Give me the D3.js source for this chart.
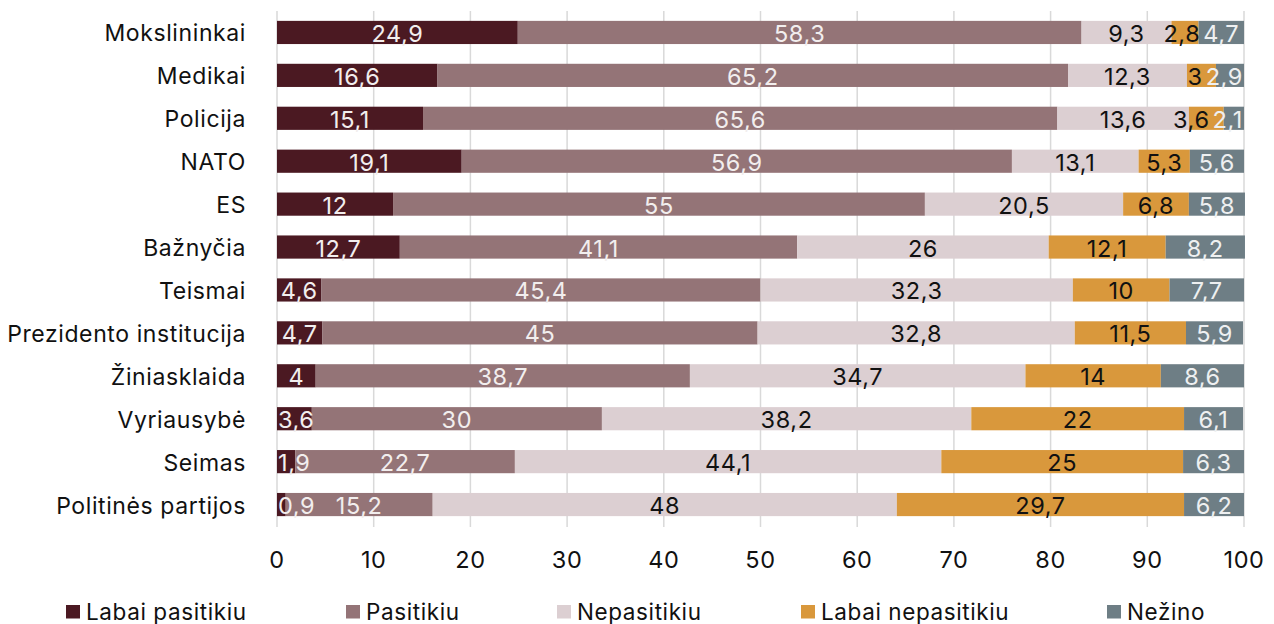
<!DOCTYPE html>
<html><head><meta charset="utf-8">
<script src="https://cdn.jsdelivr.net/npm/d3@7/dist/d3.min.js"></script>
<style>
html,body{margin:0;padding:0;background:#fff;}
svg{display:block;font-family:Inter,"Noto Sans",sans-serif;letter-spacing:0.6px;}
</style></head>
<body>
<svg id="chart" width="1274" height="624"></svg>
<script>
const categories = ["Mokslininkai","Medikai","Policija","NATO","ES","Bažnyčia","Teismai","Prezidento institucija","Žiniasklaida","Vyriausybė","Seimas","Politinės partijos"];
const seriesNames = ["Labai pasitikiu","Pasitikiu","Nepasitikiu","Labai nepasitikiu","Nežino"];
const labaiPasitikiu = [24.9,16.6,15.1,19.1,12,12.7,4.6,4.7,4,3.6,1.9,0.9];
const pasitikiu = [58.3,65.2,65.6,56.9,55,41.1,45.4,45,38.7,30,22.7,15.2];
const nepasitikiu = [9.3,12.3,13.6,13.1,20.5,26,32.3,32.8,34.7,38.2,44.1,48];
const labaiNepasitikiu = [2.8,3,3.6,5.3,6.8,12.1,10,11.5,14,22,25,29.7];
const nezino = [4.7,2.9,2.1,5.6,5.8,8.2,7.7,5.9,8.6,6.1,6.3,6.2];
const xTicks = [0,10,20,30,40,50,60,70,80,90,100];

const colors = ["#4b1922","#947477","#dccfd2","#d9983c","#6e7e85"];
const labelColors = ["#f2eeee","#f2eeee","#111111","#111111","#eef0f1"];
const seriesValues = [labaiPasitikiu,pasitikiu,nepasitikiu,labaiNepasitikiu,nezino];

const rows = categories.map((c,i)=>{
  const o = {cat:c};
  seriesNames.forEach((s,j)=>o[s]=seriesValues[j][i]);
  return o;
});
const stack = d3.stack().keys(seriesNames)(rows);

const svg = d3.select("#chart");
const x = d3.scaleLinear().domain([0,100]).range([277,1244]);
const y = d3.scaleBand().domain(categories).range([11,526]).paddingInner(0.46).paddingOuter(0.23);

// gridlines
svg.append("g").selectAll("line").data(xTicks).join("line")
  .attr("x1",d=>x(d)).attr("x2",d=>x(d)).attr("y1",11).attr("y2",527)
  .attr("stroke","#d9d9d9").attr("stroke-width",1.5);

// bars
const layers = svg.append("g").selectAll("g").data(stack).join("g")
  .attr("fill",(d,i)=>colors[i]);
layers.selectAll("rect").data(d=>d).join("rect")
  .attr("x",d=>x(d[0])).attr("width",d=>x(d[1])-x(d[0]))
  .attr("y",d=>y(d.data.cat)).attr("height",y.bandwidth());

// value labels
const fmt = v => String(v).replace(".",",");
const lblG = svg.append("g").attr("font-size",23.5);
categories.forEach((c,i)=>{
  const items = stack.map((layer,j)=>{
    const d = layer[i];
    const t = lblG.append("text").text(fmt(d.data[seriesNames[j]]))
      .attr("fill",labelColors[j]).attr("text-anchor","middle")
      .attr("dominant-baseline","central")
      .attr("y",y(c)+y.bandwidth()/2+1);
    const w = t.node().getComputedTextLength();
    let cx = (x(d[0])+x(d[1]))/2;
    cx = Math.max(cx, x(0)+w/2+1);
    cx = Math.min(cx, x(100)-w/2-1);
    return {t,w,cx};
  });
  for(let k=items.length-2;k>=0;k--){
    const a=items[k], b=items[k+1];
    const maxR = b.cx-b.w/2-3;
    if(a.cx+a.w/2>maxR) a.cx = maxR-a.w/2;
  }
  items.forEach(o=>o.t.attr("x",o.cx));
});

// y axis labels
svg.append("g").selectAll("text").data(categories).join("text")
  .attr("x",246).attr("y",d=>y(d)+y.bandwidth()/2+1)
  .attr("text-anchor","end").attr("dominant-baseline","central")
  .attr("font-size",23).attr("fill","#111").text(d=>d);

// x axis labels
svg.append("g").selectAll("text").data(xTicks).join("text")
  .attr("x",d=>x(d)).attr("y",559).attr("text-anchor","middle")
  .attr("dominant-baseline","central").attr("font-size",23.5).attr("fill","#111").text(d=>d);

// legend
const legendX = [66,346,557,801,1107];
const lg = svg.append("g").selectAll("g").data(seriesNames).join("g")
  .attr("transform",(d,i)=>`translate(${legendX[i]},605)`);
lg.append("rect").attr("width",14).attr("height",13.5).attr("fill",(d,i)=>colors[i]);
lg.append("text").attr("x",20).attr("y",6).attr("dominant-baseline","central")
  .attr("font-size",22.5).attr("fill","#111").text(d=>d);
</script>
</body></html>
